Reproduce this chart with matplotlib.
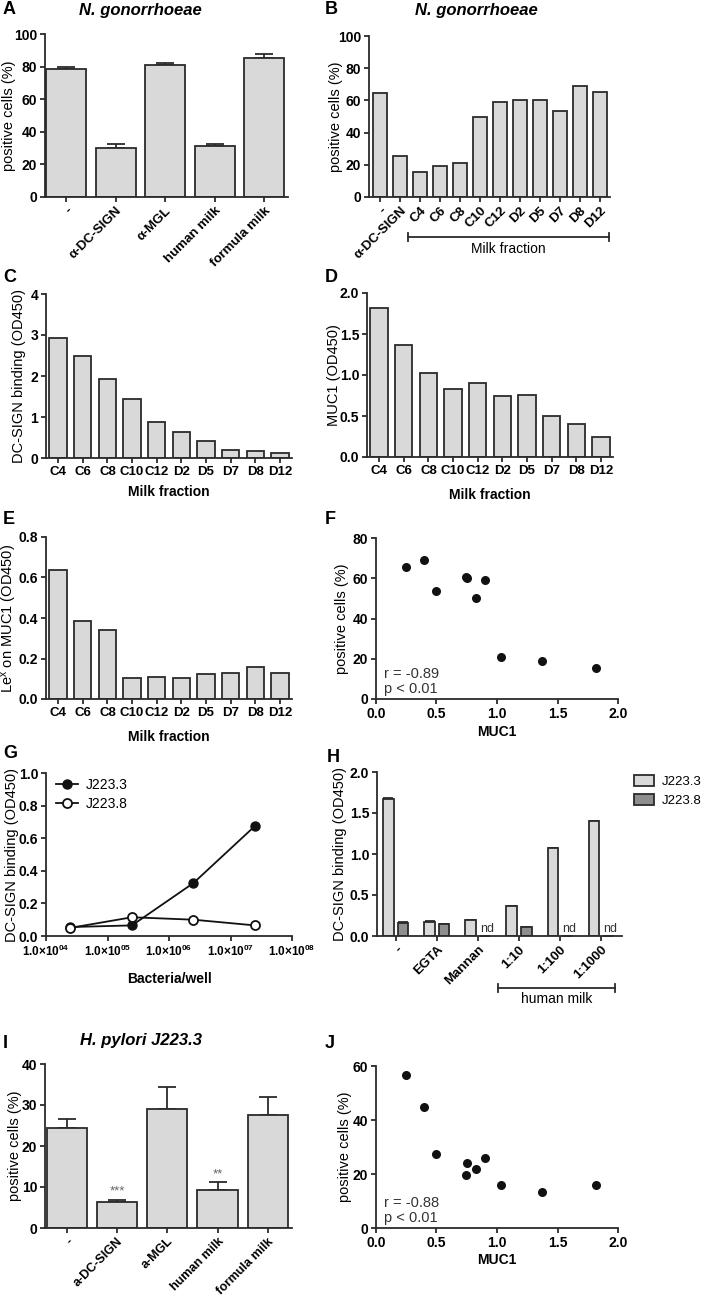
import numpy as np
import matplotlib
matplotlib.use('Agg')
import matplotlib.pyplot as plt
from matplotlib.patches import Patch

plt.rcParams['font.family'] = ['Liberation Sans', 'DejaVu Sans']
plt.rcParams['mathtext.default'] = 'regular'

# ---- data ----
a_labels = ['-', 'α-DC-SIGN', 'α-MGL', 'human milk', 'formula milk']
a_vals = [78.5, 30.2, 81.0, 31.0, 85.5]
a_err = [1.5, 2.3, 1.0, 1.5, 2.5]

b_labels = ['-', 'α-DC-SIGN', 'C4', 'C6', 'C8', 'C10', 'C12', 'D2', 'D5', 'D7', 'D8', 'D12']
b_vals = [64.5, 25.5, 15.5, 19.0, 21.0, 50.0, 59.0, 60.5, 60.0, 53.5, 69.0, 65.5]

fractions = ['C4', 'C6', 'C8', 'C10', 'C12', 'D2', 'D5', 'D7', 'D8', 'D12']
dcsign_binding = [2.92, 2.5, 1.93, 1.43, 0.89, 0.63, 0.42, 0.2, 0.16, 0.12]
muc1 = [1.82, 1.37, 1.03, 0.83, 0.90, 0.74, 0.755, 0.50, 0.40, 0.25]
lex_muc1 = [0.635, 0.385, 0.34, 0.105, 0.11, 0.105, 0.125, 0.128, 0.16, 0.13]

ng_fraction_cells = b_vals[2:]
hp_fraction_cells = [16.0, 13.5, 16.0, 21.8, 26.0, 19.5, 24.0, 27.3, 45.0, 56.5]

bacteria = [2.5e4, 2.5e5, 2.5e6, 2.5e7]
j2233_binding = [0.055, 0.065, 0.325, 0.675]
j2238_binding = [0.05, 0.115, 0.10, 0.065]
g_exponents = ['04', '05', '06', '07', '08']

h_labels = ['-', 'EGTA', 'Mannan', '1:10', '1:100', '1:1000']
h_j2233 = [1.67, 0.17, 0.19, 0.37, 1.07, 1.40]
h_j2233_err = [0.01, 0.015, 0, 0, 0, 0]
h_j2238 = [0.16, 0.145, np.nan, 0.11, np.nan, np.nan]
h_j2238_err = [0.015, 0.005, 0, 0, 0, 0]

i_labels = ['-', 'a-DC-SIGN', 'a-MGL', 'human milk', 'formula milk']
i_vals = [24.5, 6.3, 29.0, 9.3, 27.5]
i_err = [2.0, 0.6, 5.5, 1.8, 4.5]
i_sig = ['', '***', '', '**', '']

# ---- layout helpers ----
W, H = 709, 1299
fig = plt.figure(figsize=(W / 100, H / 100), dpi=100)
EDGE = '#2b2b2b'
LIGHT = '#d9d9d9'
DARK = '#8e8e8e'
TICKFS = 10


def make_ax(l, r, t, b):
    ax = fig.add_axes([l / W, 1 - b / H, (r - l) / W, (b - t) / H])
    for s in ['top', 'right']:
        ax.spines[s].set_visible(False)
    for s in ['left', 'bottom']:
        ax.spines[s].set_linewidth(1.3)
        ax.spines[s].set_color(EDGE)
    ax.tick_params(width=1.3, length=3.5, color=EDGE, labelsize=TICKFS, pad=2)
    ax.minorticks_off()
    return ax, (l, r, t, b)


def yticks(ax, ticks, fmt):
    ax.set_yticks(ticks, labels=[fmt.format(t) for t in ticks], fontweight='bold')


def ylabel(ax, box, text, xpx):
    l, r, t, b = box
    ax.set_ylabel(text, fontsize=10.5)
    ax.yaxis.set_label_coords((xpx - l) / (r - l), 0.5)


def xlabel(ax, box, text, ypx):
    l, r, t, b = box
    ax.set_xlabel(text, fontsize=10, fontweight='bold')
    ax.xaxis.set_label_coords(0.5, (b - ypx) / (b - t))


def bracket(ax, box, x0, x1, ypx, text, textpx):
    l, r, t, b = box
    yb = (b - ypx) / (b - t)
    tr = ax.get_xaxis_transform()
    d = 4 / (b - t)
    ax.plot([x0, x1], [yb, yb], color=EDGE, lw=1.3, transform=tr, clip_on=False)
    for x in [x0, x1]:
        ax.plot([x, x], [yb - d, yb + d], color=EDGE, lw=1.3, transform=tr, clip_on=False)
    ax.text((x0 + x1) / 2, (b - textpx) / (b - t), text, transform=tr,
            ha='center', va='center', fontsize=10)


def panel(letter, x, y):
    fig.text(x / W, 1 - y / H, letter, fontsize=13, fontweight='bold', ha='left', va='center')


def title(text, x, y):
    fig.text(x / W, 1 - y / H, text, fontsize=12, fontweight='bold',
             style='italic', ha='center', va='center')


def bars(ax, labels, vals, err=None, width=0.8, rot=True, fs=TICKFS):
    x = np.arange(len(vals))
    ax.bar(x, vals, width=width, color=LIGHT, edgecolor=EDGE, linewidth=1.3, zorder=2)
    if err is not None:
        ax.errorbar(x, vals, yerr=[np.zeros(len(err)), err], fmt='none', ecolor=EDGE,
                    elinewidth=1.3, capsize=6.5, capthick=1.3, zorder=1)
    if rot:
        ax.set_xticks(x, labels=labels, rotation=45, ha='right', rotation_mode='anchor',
                      fontweight='bold', fontsize=fs)
    else:
        ax.set_xticks(x, labels=labels, fontweight='bold', fontsize=fs)
    return x


# ---- A ----
ax, box = make_ax(45, 288, 34, 197)
bars(ax, a_labels, a_vals, a_err, fs=9.5)
ax.set_xlim(-0.43, 4.48)
ax.set_ylim(0, 100)
yticks(ax, [0, 20, 40, 60, 80, 100], '{:d}')
ylabel(ax, box, 'positive cells (%)', 16)
title('N. gonorrhoeae', 140, 10)
panel('A', 3, 10)

# ---- B ----
ax, box = make_ax(369, 610, 36, 197)
bars(ax, b_labels, b_vals, width=0.7, fs=9.5)
ax.set_xlim(-0.55, 11.5)
ax.set_ylim(0, 100)
yticks(ax, [0, 20, 40, 60, 80, 100], '{:d}')
ylabel(ax, box, 'positive cells (%)', 343)
bracket(ax, box, 1.4, 11.45, 237, 'Milk fraction', 249)
title('N. gonorrhoeae', 476, 11)
panel('B', 325, 10)

# ---- C ----
ax, box = make_ax(46, 292, 294, 458)
bars(ax, fractions, dcsign_binding, width=0.7, rot=False, fs=9.5)
ax.set_xlim(-0.49, 9.49)
ax.set_ylim(0, 4)
yticks(ax, [0, 1, 2, 3, 4], '{:d}')
ylabel(ax, box, 'DC-SIGN binding (OD450)', 26)
xlabel(ax, box, 'Milk fraction', 485)
panel('C', 3, 278)

# ---- D ----
ax, box = make_ax(367, 613, 293, 457)
bars(ax, fractions, muc1, width=0.7, rot=False, fs=9.5)
ax.set_xlim(-0.49, 9.49)
ax.set_ylim(0, 2)
yticks(ax, [0, 0.5, 1.0, 1.5, 2.0], '{:.1f}')
ylabel(ax, box, 'MUC1 (OD450)', 341)
xlabel(ax, box, 'Milk fraction', 488)
panel('D', 325, 278)

# ---- E ----
ax, box = make_ax(46, 292, 537, 699)
bars(ax, fractions, lex_muc1, width=0.7, rot=False, fs=9.5)
ax.set_xlim(-0.49, 9.49)
ax.set_ylim(0, 0.8)
yticks(ax, [0, 0.2, 0.4, 0.6, 0.8], '{:.1f}')
ylabel(ax, box, 'Le$^{x}$ on MUC1 (OD450)', 19)
xlabel(ax, box, 'Milk fraction', 730)
panel('E', 3, 520)

# ---- F ----
ax, box = make_ax(376, 618, 538, 699)
ax.scatter(muc1, ng_fraction_cells, s=30, color='#111111', zorder=3, clip_on=False)
ax.set_xlim(0, 2)
ax.set_ylim(0, 80)
ax.set_xticks([0, 0.5, 1.0, 1.5, 2.0], labels=['0.0', '0.5', '1.0', '1.5', '2.0'],
              fontweight='bold')
yticks(ax, [0, 20, 40, 60, 80], '{:d}')
ylabel(ax, box, 'positive cells (%)', 349)
xlabel(ax, box, 'MUC1', 725)
ax.text(0.035, 0.02, 'r = -0.89\np < 0.01', transform=ax.transAxes, fontsize=10.5,
        ha='left', va='bottom', linespacing=1.1, color='#333333')
panel('F', 325, 520)

# ---- G ----
ax, box = make_ax(46, 292, 773, 936)
ax.set_xscale('log')
ax.plot(bacteria, j2233_binding, '-o', color='#111111', lw=1.3, ms=6.5,
        mfc='#111111', mec='#111111', label='J223.3', zorder=3)
ax.plot(bacteria, j2238_binding, '-o', color='#111111', lw=1.3, ms=6.5,
        mfc='white', mec='#111111', mew=1.3, label='J223.8', zorder=3)
ax.set_xlim(1e4, 1e8)
ax.set_ylim(0, 1.0)
gt = [10.0 ** int(e) for e in g_exponents]
ax.set_xticks(gt, labels=['1.0×10$^{%s}$' % e for e in g_exponents], fontweight='bold',
              fontsize=8.5)
ax.minorticks_off()
yticks(ax, [0, 0.2, 0.4, 0.6, 0.8, 1.0], '{:.1f}')
ylabel(ax, box, 'DC-SIGN binding (OD450)', 19)
xlabel(ax, box, 'Bacteria/well', 972)
ax.legend(loc='upper left', bbox_to_anchor=(0.0, 1.03), frameon=False, fontsize=10,
          handlelength=1.6, handletextpad=0.6, labelspacing=0.35, borderaxespad=0.3)
panel('G', 3, 753)

# ---- H ----
ax, box = make_ax(377, 622, 772, 936)
xh = np.arange(len(h_labels))
off, bw = 0.18, 0.25
ax.bar(xh - off, h_j2233, width=bw, color=LIGHT, edgecolor=EDGE, linewidth=1.3, zorder=2)
ax.bar(xh + off, np.nan_to_num(h_j2238), width=bw, color=DARK, edgecolor=EDGE,
       linewidth=1.3, zorder=2)
ax.errorbar(xh - off, h_j2233, yerr=[np.zeros(6), h_j2233_err], fmt='none', ecolor=EDGE,
            elinewidth=1.3, capsize=3.5, capthick=1.3, zorder=1)
ax.errorbar(xh + off, np.nan_to_num(h_j2238), yerr=[np.zeros(6), h_j2238_err], fmt='none',
            ecolor=EDGE, elinewidth=1.3, capsize=3.5, capthick=1.3, zorder=1)
for xi, v in zip(xh, h_j2238):
    if np.isnan(v):
        ax.text(xi + off + 0.05, 0.01, 'nd', ha='center', va='bottom', fontsize=9,
                color='#333333')
ax.set_xticks(xh, labels=h_labels, rotation=45, ha='right', rotation_mode='anchor',
              fontweight='bold', fontsize=9.5)
ax.set_xlim(-0.46, 5.51)
ax.set_ylim(0, 2.0)
yticks(ax, [0, 0.5, 1.0, 1.5, 2.0], '{:.1f}')
ylabel(ax, box, 'DC-SIGN binding (OD450)', 347)
bracket(ax, box, 2.5, 5.35, 988, 'human milk', 999)
fig.legend(handles=[Patch(facecolor=LIGHT, edgecolor=EDGE, linewidth=1.3),
                    Patch(facecolor=DARK, edgecolor=EDGE, linewidth=1.3)],
           labels=['J223.3', 'J223.8'], loc='upper left',
           bbox_to_anchor=(634 / W, 1 - 775 / H), frameon=False, fontsize=9.5,
           handlelength=1.5, handleheight=0.9, handletextpad=0.6, labelspacing=0.45,
           borderaxespad=0, borderpad=0)
panel('H', 327, 757)

# ---- I ----
ax, box = make_ax(45, 292, 1064, 1228)
xi = bars(ax, i_labels, i_vals, i_err, fs=9)
for x, v, e, s in zip(xi, i_vals, i_err, i_sig):
    if s:
        ax.text(x, v + e + 0.6, s, ha='center', va='bottom', fontsize=9.5, color='#666666')
ax.set_xlim(-0.43, 4.48)
ax.set_ylim(0, 40)
yticks(ax, [0, 10, 20, 30, 40], '{:d}')
ylabel(ax, box, 'positive cells (%)', 22)
title('H. pylori J223.3', 141, 1041)
panel('I', 3, 1043)

# ---- J ----
ax, box = make_ax(376, 618, 1066, 1228)
ax.scatter(muc1, hp_fraction_cells, s=30, color='#111111', zorder=3, clip_on=False)
ax.set_xlim(0, 2)
ax.set_ylim(0, 60)
ax.set_xticks([0, 0.5, 1.0, 1.5, 2.0], labels=['0.0', '0.5', '1.0', '1.5', '2.0'],
              fontweight='bold')
yticks(ax, [0, 20, 40, 60], '{:d}')
ylabel(ax, box, 'positive cells (%)', 352)
xlabel(ax, box, 'MUC1', 1253)
ax.text(0.035, 0.02, 'r = -0.88\np < 0.01', transform=ax.transAxes, fontsize=10.5,
        ha='left', va='bottom', linespacing=1.1, color='#333333')
panel('J', 325, 1043)

fig.savefig('out.png', dpi=100)
